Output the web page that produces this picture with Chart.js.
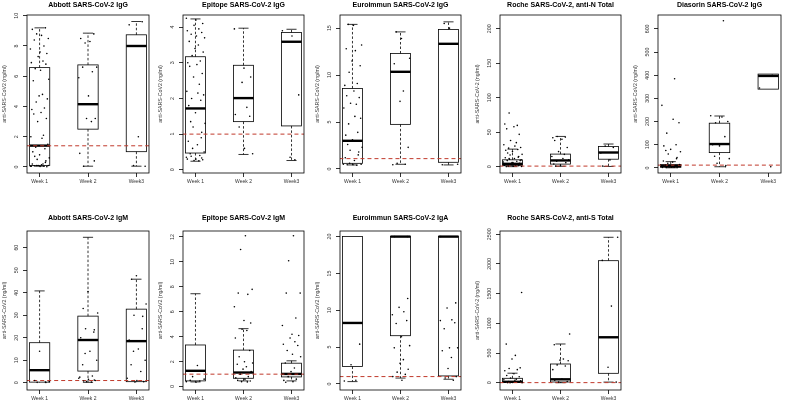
<!DOCTYPE html>
<html lang="en">
<head>
<meta charset="UTF-8">
<title>SARS-CoV-2 antibody panels</title>
<script src="https://cdn.jsdelivr.net/npm/chart.js"></script>
<style>
  body { margin: 0; background: #fff; }
  .janela { position: relative; width: 787px; height: 404px; overflow: hidden; }
  .painel { position: absolute; }
</style>
</head>
<body>
<div class="janela" id="janela"></div>
<script>
const weeks = ['Week 1', 'Week 2', 'Week3'];
// hand-read jitter offsets (in week units), reused for every strip
const jitter = [0.12, -0.15, 0.04, -0.06, 0.18, -0.11, 0.09, -0.19, 0.01, 0.15, -0.03, 0.07, -0.17, 0.13,
  -0.09, 0.02, 0.19, -0.13, 0.06, -0.01, 0.16, -0.07, 0.1, -0.16, 0.03, -0.12, 0.14, -0.04, 0.08, -0.18,
  0.05, 0.17, -0.08, 0.11, -0.14, 0.0, -0.1, 0.2, -0.05, 0.13];

// box stats per week: [lower whisker, Q1, median, Q3, upper whisker]
const abbottIgGBox = [[0.05, 0.09, 1.41, 6.57, 9.2], [0.05, 2.5, 4.15, 6.75, 8.85], [0.05, 1.01, 8.0, 8.74, 9.62]];
const abbottIgGPts = [
  [9.2, 9.1, 8.7, 8.8, 8.5, 8.4, 8.0, 7.8, 7.6, 7.5, 7.3, 7.0, 6.9, 6.8, 6.5, 6.4, 5.8, 5.7, 4.8, 4.7, 4.5, 4.3,
   3.9, 3.8, 3.6, 3.5, 3.2, 3.0, 2.1, 2.0, 1.9, 1.5, 1.3, 1.2, 1.0, 0.8, 0.7, 0.6, 0.5, 0.4, 0.3, 0.2, 0.15,
   0.1, 0.1, 0.08, 0.05, 0.05, 0.03, 0.02, 0.1, 0.2, 0.05],
  [8.8, 8.5, 8.3, 8.2, 6.6, 6.6, 6.3, 5.9, 4.7, 3.2, 3.2, 3.0, 0.9, 0.4, 0.05],
  [9.6, 9.4, 2.0, 0.1, 0.05]];
const abbottIgGTicks = [0, 2, 4, 6, 8, 10];

const epitopeIgGBox = [[0.24, 0.47, 1.72, 3.17, 4.23], [0.43, 1.35, 2.01, 2.93, 3.97], [0.26, 1.23, 3.59, 3.85, 3.94]];
const epitopeIgGPts = [
  [4.25, 4.2, 4.1, 4.05, 3.95, 3.9, 3.85, 3.8, 3.75, 3.7, 3.6, 3.5, 3.4, 3.3, 3.2, 3.05, 3.0, 2.95, 2.9, 2.7,
   2.6, 2.4, 2.2, 2.15, 2.1, 2.0, 1.95, 1.8, 1.6, 1.35, 1.3, 1.2, 1.05, 0.9, 0.8, 0.7, 0.6, 0.5, 0.45, 0.4,
   0.35, 0.3, 0.28, 0.26, 0.25, 0.3, 0.33, 0.38],
  [3.95, 2.85, 2.6, 2.45, 1.75, 1.55, 1.5, 1.2, 0.6, 0.45],
  [3.9, 3.75, 2.1, 0.35, 0.28]];
const epitopeIgGTicks = [0, 1, 2, 3, 4];

const euroIgGBox = [[0.43, 0.6, 3.0, 8.58, 15.4], [0.5, 4.75, 10.35, 12.3, 14.6], [0.43, 0.71, 13.33, 14.86, 15.67]];
const euroIgGPts = [
  [15.4, 15.3, 13.2, 12.8, 12.6, 11.5, 11.0, 10.3, 9.1, 8.9, 8.3, 7.8, 7.6, 7.0, 6.9, 6.5, 5.6, 5.4, 4.8, 3.9,
   3.6, 3.1, 2.6, 2.3, 2.0, 1.8, 1.5, 1.2, 0.9, 0.6, 0.5, 0.45, 0.4, 0.5, 0.45],
  [14.6, 13.9, 11.8, 11.2, 8.3, 7.2, 2.3, 0.6, 0.5, 0.45],
  [15.5, 15.0, 0.5, 0.45]];
const euroIgGTicks = [0, 5, 10, 15];

const rocheNBox = [[0.2, 1.9, 4.3, 10.1, 25.6], [0.7, 3.9, 9.2, 18.4, 44], [0.5, 11, 20.7, 29.4, 33]];
const rocheNPts = [
  [78, 60, 62, 58, 55, 47, 38, 35, 32, 30, 28, 27, 25, 24, 22, 20, 18, 17, 15, 14, 13, 12, 11, 10, 9, 8, 7,
   6, 5, 4, 3, 2, 1.5, 1, 0.8, 0.5, 0.3, 3, 6, 9, 12, 4],
  [44, 43, 42, 40, 38, 28, 22, 18, 15, 12, 10, 8, 6, 4, 2, 1],
  [30, 28, 20, 10, 1]];
const rocheNTicks = [0, 50, 100, 150, 200];

const diasorinBox = [[0.5, 3, 8, 15, 27], [5, 66, 103, 193, 224], [340, 340, 397, 405, 405]];
const diasorinPts = [
  [385, 270, 210, 195, 150, 100, 95, 80, 75, 70, 60, 45, 40, 30, 25, 20, 15, 12, 10, 8, 6, 5, 4, 3, 2, 1, 2,
   3, 5, 8],
  [635, 225, 220, 200, 195, 135, 100, 95, 50, 40, 20, 10, 5],
  [400, 345, 5]];
const diasorinTicks = [0, 100, 200, 300, 400, 500, 600];

const abbottIgMBox = [[0.1, 0.3, 5.6, 17.8, 40.8], [0.2, 5.2, 19, 29.6, 64.6], [0.3, 0.5, 18.5, 32.7, 46]];
const abbottIgMPts = [
  [14, 1, 0.5, 0.2, 0.1, 0.3],
  [40.5, 33, 31, 24, 23.5, 22.5, 20, 14, 13, 10, 8, 3, 2, 1.5, 1, 0.5, 0.3, 2.5, 1.2, 0.8],
  [47.5, 46, 35, 30, 29.5, 24, 19, 15, 14, 10, 8, 5, 2, 1, 0.5, 0.3]];
const abbottIgMTicks = [0, 10, 20, 30, 40, 50, 60];

const epitopeIgMBox = [[0.38, 0.46, 1.27, 3.34, 7.45], [0.46, 0.67, 1.13, 2.93, 4.65], [0.46, 0.78, 1.02, 1.88, 2.07]];
const epitopeIgMPts = [
  [1.7, 0.8, 0.6, 0.5, 0.45, 0.4, 0.35],
  [12.1, 11.0, 7.8, 7.5, 7.4, 6.4, 5.3, 5.1, 4.6, 4.5, 3.9, 2.9, 2.4, 2.0, 1.9, 1.8, 1.6, 1.4, 1.2, 1.0, 0.8,
   0.7, 0.6, 0.5, 0.45, 0.4, 0.38],
  [12.1, 10.1, 7.5, 7.5, 5.5, 4.9, 4.2, 4.1, 3.9, 3.6, 3.4, 3.3, 2.9, 2.6, 2.4, 1.9, 1.5, 1.2, 1.0, 0.8, 0.6,
   0.5, 0.4, 0.35]];
const epitopeIgMTicks = [0, 2, 4, 6, 8, 10, 12];

const euroIgABox = [[0.32, 2.36, 8.28, 20, 20], [0.8, 6.55, 20, 20, 20], [0.64, 1.09, 20, 20, 20]];
const euroIgAPts = [
  [5.4, 2.6, 0.5, 0.4],
  [11.6, 10.4, 9.8, 9.4, 8.6, 8.2, 6.4, 5.2, 4.9, 3.3, 2.8, 2.0, 1.6, 1.3, 1.0, 0.5, 20, 20],
  [11.0, 10.3, 8.7, 8.6, 8.3, 7.5, 4.9, 4.9, 4.5, 3.6, 2.1, 1.0, 0.8, 0.5, 20]];
const euroIgATicks = [0, 5, 10, 15, 20];

const rocheSBox = [[0, 2, 15, 74, 160], [0, 12, 57, 315, 652], [10, 158, 765, 2055, 2449]];
const rocheSPts = [
  [1520, 650, 460, 400, 250, 240, 220, 200, 150, 120, 100, 80, 60, 50, 40, 30, 20, 15, 10, 5, 2, 1, 0.5],
  [820, 640, 400, 380, 370, 300, 280, 220, 60, 40, 20, 10],
  [2450, 2060, 1290, 260, 10]];
const rocheSTicks = [0, 500, 1000, 1500, 2000, 2500];

const cutoffs = [1.4, 1.0, 1.1, 1.0, 12, 1.0, 1.0, 1.0, 1.0];

const yTitle = 'anti-SARS-CoV2 (ng/ml)';
const yTitleRoche = 'anti-SARS-CoV-2 (ng/ml)';

// frame = plot box [left, top, right, bottom] in page pixels
const panels = [
  { title: 'Abbott SARS-CoV-2 IgG', box: abbottIgGBox, pts: abbottIgGPts, ticks: abbottIgGTicks, ymin: -0.4, ymax: 10.05, frame: [27, 15, 150, 173], row: 0 },
  { title: 'Epitope SARS-CoV-2 IgG', box: epitopeIgGBox, pts: epitopeIgGPts, ticks: epitopeIgGTicks, ymin: -0.09, ymax: 4.34, frame: [183, 15, 305, 173], row: 0 },
  { title: 'Euroimmun SARS-CoV-2 IgG', box: euroIgGBox, pts: euroIgGPts, ticks: euroIgGTicks, ymin: -0.43, ymax: 16.4, frame: [340, 15, 462, 173], row: 0 },
  { title: 'Roche SARS-CoV-2, anti-N Total', box: rocheNBox, pts: rocheNPts, ticks: rocheNTicks, ymin: -9, ymax: 220, frame: [500, 15, 622, 173], row: 0, roche: true },
  { title: 'Diasorin SARS-CoV-2 IgG', box: diasorinBox, pts: diasorinPts, ticks: diasorinTicks, ymin: -22, ymax: 660, frame: [658, 15, 782, 173], row: 0 },
  { title: 'Abbott SARS-CoV-2 IgM', box: abbottIgMBox, pts: abbottIgMPts, ticks: abbottIgMTicks, ymin: -3.2, ymax: 67.4, frame: [27, 231, 150, 390], row: 1 },
  { title: 'Epitope SARS-CoV-2 IgM', box: epitopeIgMBox, pts: epitopeIgMPts, ticks: epitopeIgMTicks, ymin: -0.27, ymax: 12.48, frame: [183, 231, 305, 390], row: 1 },
  { title: 'Euroimmun SARS-CoV-2 IgA', box: euroIgABox, pts: euroIgAPts, ticks: euroIgATicks, ymin: -0.82, ymax: 20.76, frame: [340, 231, 462, 390], row: 1 },
  { title: 'Roche SARS-CoV-2, anti-S Total', box: rocheSBox, pts: rocheSPts, ticks: rocheSTicks, ymin: -123, ymax: 2555, frame: [500, 231, 622, 390], row: 1, roche: true }
];

const AXW = 27, AXH = 17;
const tickFont = { family: 'Liberation Sans, Arial, sans-serif', size: 5.3 };
const measure = document.createElement('canvas').getContext('2d');
measure.font = '5.3px "Liberation Sans", Arial, sans-serif';

const boxPlugin = {
  id: 'boxplot',
  beforeDatasetsDraw(chart, args, opts) {
    const { ctx, scales: { x, y } } = chart;
    ctx.save();
    ctx.strokeStyle = '#000';
    opts.stats.forEach((s, i) => {
      const cx = x.getPixelForValue(i + 1);
      const half = x.getPixelForValue(i + 1 + opts.width / 2) - cx;
      const [lo, q1, med, q3, hi] = s.map(v => y.getPixelForValue(v));
      ctx.lineWidth = 0.8;
      ctx.setLineDash([2.5, 2]);
      ctx.beginPath();
      ctx.moveTo(cx, q3); ctx.lineTo(cx, hi);
      ctx.moveTo(cx, q1); ctx.lineTo(cx, lo);
      ctx.stroke();
      ctx.setLineDash([]);
      ctx.beginPath();
      if (hi < q3 - 0.5) { ctx.moveTo(cx - half / 2, hi); ctx.lineTo(cx + half / 2, hi); }
      if (lo > q1 + 0.5) { ctx.moveTo(cx - half / 2, lo); ctx.lineTo(cx + half / 2, lo); }
      ctx.stroke();
      ctx.strokeRect(cx - half, q3, 2 * half, q1 - q3);
      ctx.lineWidth = 2.4;
      ctx.beginPath();
      ctx.moveTo(cx - half, med); ctx.lineTo(cx + half, med);
      ctx.stroke();
    });
    ctx.restore();
  },
  afterDraw(chart) {
    const { ctx, chartArea: a } = chart;
    ctx.save();
    ctx.strokeStyle = '#000';
    ctx.lineWidth = 0.8;
    ctx.strokeRect(a.left, a.top, a.right - a.left, a.bottom - a.top);
    ctx.restore();
  }
};

const janela = document.getElementById('janela');

panels.forEach((p, idx) => {
  const [l, t, r, b] = p.frame;
  const titleH = p.row === 0 ? 15 : 20;
  const div = document.createElement('div');
  div.className = 'painel';
  div.style.left = (l - AXW) + 'px';
  div.style.top = (t - titleH) + 'px';
  div.style.width = (r - l + AXW + 3) + 'px';
  div.style.height = (b - t + titleH + AXH) + 'px';
  const canvas = document.createElement('canvas');
  div.appendChild(canvas);
  janela.appendChild(div);

  const widest = Math.max(...p.ticks.map(v => measure.measureText(String(v)).width));

  const points = [];
  p.pts.forEach((vals, w) => {
    vals.forEach((v, k) => points.push({ x: w + 1 + jitter[(k + idx * 7) % jitter.length], y: v }));
  });

  new Chart(canvas, {
    type: 'scatter',
    data: {
      datasets: [
        { data: points, backgroundColor: '#000', borderColor: '#000', pointRadius: 0.8, pointBorderWidth: 0 },
        { type: 'line', data: [{ x: 0, y: cutoffs[idx] }, { x: 4, y: cutoffs[idx] }], borderColor: '#c0392b',
          borderWidth: 1, borderDash: [4, 3], pointRadius: 0 }
      ]
    },
    options: {
      responsive: true,
      maintainAspectRatio: false,
      animation: false,
      layout: { padding: 0 },
      plugins: {
        legend: { display: false },
        tooltip: { enabled: false },
        title: {
          display: true, text: p.title, color: '#000', fullSize: false,
          font: { family: 'Liberation Sans, Arial, sans-serif', size: 7, weight: 'bold', lineHeight: 1.2 },
          padding: p.row === 0 ? { top: 0.8, bottom: 5.8 } : { top: 2.8, bottom: 8.8 }
        },
        boxplot: { stats: p.box, width: 0.42 }
      },
      scales: {
        x: {
          type: 'linear', min: 0.74, max: 3.26,
          afterBuildTicks: ax => { ax.ticks = [1, 2, 3].map(v => ({ value: v })); },
          afterFit: ax => { ax.height = AXH; },
          ticks: { callback: v => weeks[v - 1], color: '#333', font: { ...tickFont, size: 5 }, padding: 2, maxRotation: 0 },
          grid: { drawOnChartArea: false, drawTicks: true, tickLength: 4, color: '#000', lineWidth: 0.8 },
          border: { display: false }
        },
        y: {
          type: 'linear', min: p.ymin, max: p.ymax,
          afterBuildTicks: ax => { ax.ticks = p.ticks.map(v => ({ value: v })); },
          afterFit: ax => { ax.width = AXW; },
          ticks: { callback: v => String(v), color: '#333', font: tickFont, minRotation: 90, maxRotation: 90,
            crossAlign: 'center', padding: 6 - widest / 2 },
          grid: { drawOnChartArea: false, drawTicks: true, tickLength: 4, color: '#000', lineWidth: 0.8 },
          border: { display: false },
          title: { display: true, text: p.roche ? yTitleRoche : yTitle, color: '#333',
            font: { family: 'Liberation Sans, Arial, sans-serif', size: 5.3, lineHeight: 1.2 }, padding: { top: 1.8, bottom: 0 } }
        }
      }
    },
    plugins: [boxPlugin]
  });
});
</script>
</body>
</html>
